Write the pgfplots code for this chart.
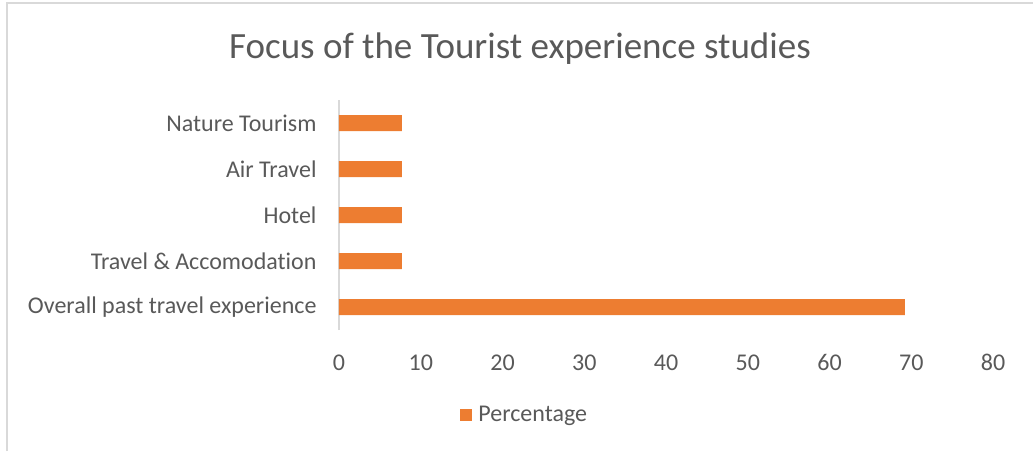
\documentclass[border=0pt]{standalone}
\usepackage{fontspec}
\setmainfont{Carlito}[Ligatures={NoCommon}]
\usepackage{pgfplots}
\pgfplotsset{compat=1.18}
\definecolor{barorange}{HTML}{ED7D31}
\definecolor{txtgray}{HTML}{595959}
\definecolor{linegray}{HTML}{D9D9D9}
\begin{document}
\begin{tikzpicture}[x=1pt,y=1pt]
\path[use as bounding box] (0,0) rectangle (1033,451);
\draw[linegray,line width=1.5pt] (7,0) -- (7,448) -- (1033,448);
\node[txtgray,font=\fontsize{37}{44}\selectfont] at (520,402) {Focus of the Tourist experience studies};
\begin{axis}[
  at={(339pt,121pt)}, anchor=south west,
  width=654pt, height=230pt, scale only axis,
  xbar, bar width=16pt,
  xmin=0, xmax=80, ymin=-0.5, ymax=4.5,
  xtick={0,10,...,80},
  ytick={0,1,2,3,4},
  yticklabels={Overall past travel experience, Travel \& Accomodation, Hotel, Air Travel, Nature Tourism},
  axis y line*=left, axis x line*=bottom,
  x axis line style={draw=none},
  y axis line style={linegray,line width=1.5pt,-},
  major tick length=0pt,
  tick style={draw=none},
  /pgf/number format/assume math mode=true,
  ticklabel style={txtgray,font=\fontsize{24}{29}\selectfont},
  xticklabel style={yshift=-21pt},
  yticklabel style={xshift=-19pt},
  legend style={at={(0.284,-0.368)},anchor=center,draw=none,fill=none,
    font=\fontsize{24}{29}\selectfont,text=txtgray, legend cell align=left},
  legend image code/.code={\fill[barorange] (0pt,-6pt) rectangle (12pt,6pt);},
]
\addplot[fill=barorange,draw=none] coordinates {(69.23,0) (7.69,1) (7.69,2) (7.69,3) (7.69,4)};
\addlegendentry{\hspace{4pt}Percentage}
\end{axis}
\end{tikzpicture}
\end{document}
